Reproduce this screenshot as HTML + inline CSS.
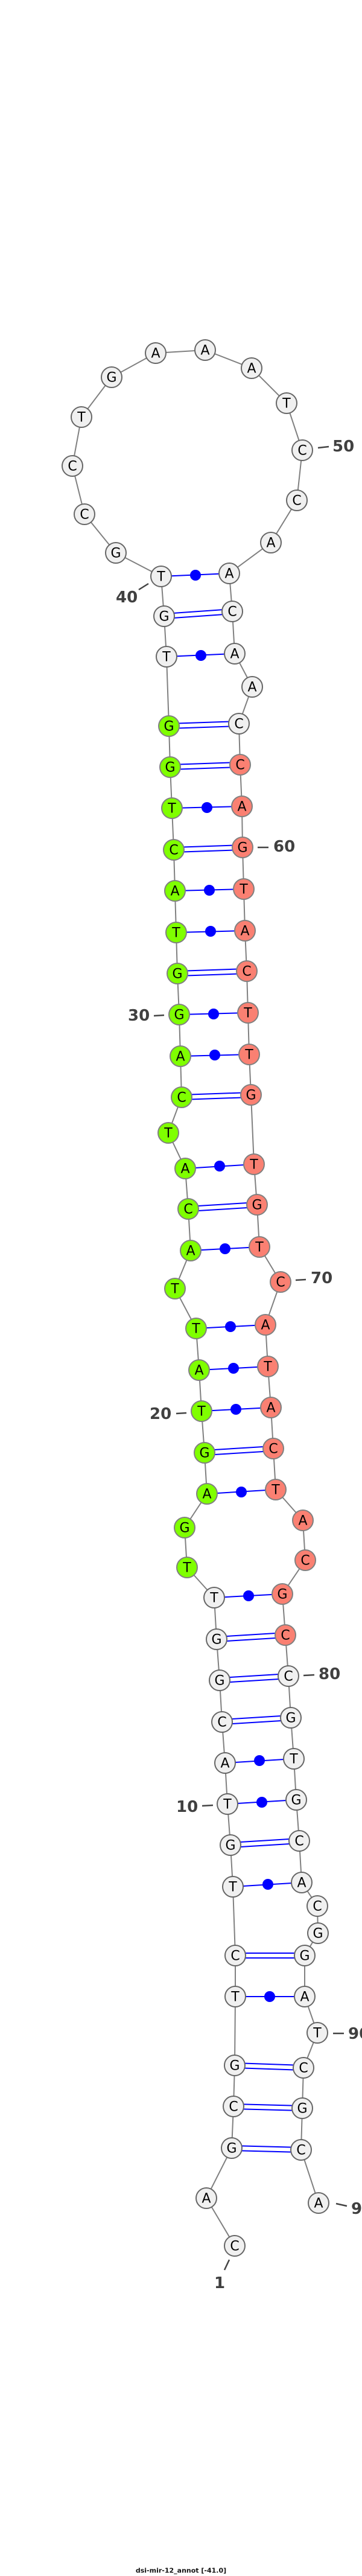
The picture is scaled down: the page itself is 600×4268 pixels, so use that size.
<!DOCTYPE html>
<html><head><meta charset="utf-8"><style>
html,body{margin:0;padding:0;background:#fff}
svg{display:block}
.n text{font-family:"DejaVu Sans","Liberation Sans",sans-serif;font-size:22px;text-anchor:middle;dominant-baseline:central;fill:#000}
.lb{font-family:"DejaVu Sans","Liberation Sans",sans-serif;font-size:26px;font-weight:bold;fill:#404040;dominant-baseline:central}
</style></head><body>
<svg width="600" height="4268" viewBox="0 0 600 4268" xmlns="http://www.w3.org/2000/svg">
<polyline fill="none" stroke="#808080" stroke-width="2" points="389,3721 342,3642 384,3559 387,3490 389,3422 390,3308 390,3240 386,3126 382,3057 377,2989 373,2921 368,2853 364,2784 359,2716 355,2647 310,2597 306,2531 343,2475 339,2407 334,2338 330,2270 325,2201 290,2135 316,2072 312,2003 307,1936 279,1877 301,1818 299,1750 297,1681 294,1613 292,1545 290,1476 288,1408 285,1339 282,1271 280,1203 276,1088 272,1021 267,955 192,916 140,852 120,772 135,691 185,625 258,585 340,580 417,610 475,668 501,746 492,829 449,899 380,950 385,1013 389,1083 418,1138 396,1199 398,1267 401,1336 402,1404 404,1473 406,1542 409,1609 411,1678 413,1747 416,1814 421,1929 426,1996 430,2066 465,2124 440,2195 444,2264 449,2332 453,2400 457,2468 502,2519 506,2585 468,2641 473,2709 478,2777 482,2846 487,2914 491,2982 496,3050 500,3119 526,3158 527,3203 505,3240 505,3308 526,3368 503,3426 501,3493 499,3562 528,3650"/>
<g stroke="#0000ff" stroke-width="2" fill="none">
<!-- dot pairs -->
<line x1="267" y1="955" x2="380" y2="950"/>
<line x1="276" y1="1088" x2="389" y2="1083"/>
<line x1="285" y1="1339" x2="401" y2="1336"/>
<line x1="290" y1="1476" x2="404" y2="1473"/>
<line x1="292" y1="1545" x2="406" y2="1542"/>
<line x1="297" y1="1681" x2="411" y2="1678"/>
<line x1="299" y1="1750" x2="413" y2="1747"/>
<line x1="307" y1="1936" x2="421" y2="1929"/>
<line x1="316" y1="2072" x2="430" y2="2066"/>
<line x1="325" y1="2201" x2="440" y2="2195"/>
<line x1="330" y1="2270" x2="444" y2="2264"/>
<line x1="334" y1="2338" x2="449" y2="2332"/>
<line x1="343" y1="2475" x2="457" y2="2468"/>
<line x1="355" y1="2647" x2="468" y2="2641"/>
<line x1="373" y1="2921" x2="487" y2="2914"/>
<line x1="377" y1="2989" x2="491" y2="2982"/>
<line x1="386" y1="3126" x2="500" y2="3119"/>
<line x1="390" y1="3308" x2="505" y2="3308"/>
<!-- double pairs -->
<line x1="272" y1="1017" x2="385" y2="1009"/><line x1="272" y1="1025" x2="385" y2="1017"/>
<line x1="280" y1="1199" x2="396" y2="1195"/><line x1="280" y1="1207" x2="396" y2="1203"/>
<line x1="282" y1="1267" x2="398" y2="1263"/><line x1="282" y1="1275" x2="398" y2="1271"/>
<line x1="288" y1="1404" x2="402" y2="1400"/><line x1="288" y1="1412" x2="402" y2="1408"/>
<line x1="294" y1="1609" x2="409" y2="1605"/><line x1="294" y1="1617" x2="409" y2="1613"/>
<line x1="301" y1="1814" x2="416" y2="1810"/><line x1="301" y1="1822" x2="416" y2="1818"/>
<line x1="312" y1="1999" x2="426" y2="1992"/><line x1="312" y1="2007" x2="426" y2="2000"/>
<line x1="339" y1="2403" x2="453" y2="2396"/><line x1="339" y1="2411" x2="453" y2="2404"/>
<line x1="359" y1="2712" x2="473" y2="2705"/><line x1="359" y1="2720" x2="473" y2="2713"/>
<line x1="364" y1="2780" x2="478" y2="2773"/><line x1="364" y1="2788" x2="478" y2="2781"/>
<line x1="368" y1="2849" x2="482" y2="2842"/><line x1="368" y1="2857" x2="482" y2="2850"/>
<line x1="382" y1="3053" x2="496" y2="3046"/><line x1="382" y1="3061" x2="496" y2="3054"/>
<line x1="390" y1="3236" x2="505" y2="3236"/><line x1="390" y1="3244" x2="505" y2="3244"/>
<line x1="389" y1="3418" x2="503" y2="3422"/><line x1="389" y1="3426" x2="503" y2="3430"/>
<line x1="387" y1="3486" x2="501" y2="3489"/><line x1="387" y1="3494" x2="501" y2="3497"/>
<line x1="384" y1="3555" x2="499" y2="3558"/><line x1="384" y1="3563" x2="499" y2="3566"/>
</g>
<g fill="#0000ff">
<circle cx="324" cy="953" r="9"/><circle cx="333" cy="1086" r="9"/><circle cx="343" cy="1338" r="9"/>
<circle cx="347" cy="1475" r="9"/><circle cx="349" cy="1543" r="9"/><circle cx="354" cy="1680" r="9"/>
<circle cx="356" cy="1748" r="9"/><circle cx="364" cy="1932" r="9"/><circle cx="373" cy="2069" r="9"/>
<circle cx="382" cy="2198" r="9"/><circle cx="387" cy="2267" r="9"/><circle cx="391" cy="2335" r="9"/>
<circle cx="400" cy="2472" r="9"/><circle cx="412" cy="2644" r="9"/><circle cx="430" cy="2917" r="9"/>
<circle cx="434" cy="2986" r="9"/><circle cx="444" cy="3122" r="9"/><circle cx="447" cy="3308" r="9"/>
</g>
<g stroke="#444" stroke-width="2.5">
<line x1="230" y1="977" x2="246" y2="967"/>
<line x1="527" y1="742" x2="545" y2="740"/>
<line x1="427" y1="1404" x2="445" y2="1404"/>
<line x1="255" y1="1683" x2="272" y2="1682"/>
<line x1="490" y1="2121" x2="507" y2="2120"/>
<line x1="292" y1="2342" x2="309" y2="2341"/>
<line x1="503" y1="2776" x2="521" y2="2775"/>
<line x1="335" y1="2992" x2="353" y2="2991"/>
<line x1="552" y1="3369" x2="570" y2="3369"/>
<line x1="557" y1="3651" x2="575" y2="3655"/>
<line x1="380" y1="3744" x2="372" y2="3761"/>
</g>
<g class="lb">
<text x="192" y="990">40</text>
<text x="551" y="740">50</text>
<text x="453" y="1403">60</text>
<text x="212" y="1683">30</text>
<text x="515" y="2118">70</text>
<text x="248" y="2343">20</text>
<text x="528" y="2774">80</text>
<text x="292" y="2994">10</text>
<text x="577" y="3370">90</text>
<text x="582" y="3660">94</text>
<text x="355" y="3783">1</text>
</g>
<g class="n" stroke-width="2">
<g fill="#f0f0f0" stroke="#666">
<circle cx="389" cy="3721" r="17"/><circle cx="342" cy="3642" r="17"/><circle cx="384" cy="3559" r="17"/><circle cx="387" cy="3490" r="17"/><circle cx="389" cy="3422" r="17"/><circle cx="390" cy="3308" r="17"/><circle cx="390" cy="3240" r="17"/><circle cx="386" cy="3126" r="17"/><circle cx="382" cy="3057" r="17"/><circle cx="377" cy="2989" r="17"/><circle cx="373" cy="2921" r="17"/><circle cx="368" cy="2853" r="17"/><circle cx="364" cy="2784" r="17"/><circle cx="359" cy="2716" r="17"/><circle cx="355" cy="2647" r="17"/>
<circle cx="276" cy="1088" r="17"/><circle cx="272" cy="1021" r="17"/><circle cx="267" cy="955" r="17"/><circle cx="192" cy="916" r="17"/><circle cx="140" cy="852" r="17"/><circle cx="120" cy="772" r="17"/><circle cx="135" cy="691" r="17"/><circle cx="185" cy="625" r="17"/><circle cx="258" cy="585" r="17"/><circle cx="340" cy="580" r="17"/><circle cx="417" cy="610" r="17"/><circle cx="475" cy="668" r="17"/><circle cx="501" cy="746" r="17"/><circle cx="492" cy="829" r="17"/><circle cx="449" cy="899" r="17"/><circle cx="380" cy="950" r="17"/><circle cx="385" cy="1013" r="17"/><circle cx="389" cy="1083" r="17"/><circle cx="418" cy="1138" r="17"/><circle cx="396" cy="1199" r="17"/>
<circle cx="478" cy="2777" r="17"/><circle cx="482" cy="2846" r="17"/><circle cx="487" cy="2914" r="17"/><circle cx="491" cy="2982" r="17"/><circle cx="496" cy="3050" r="17"/><circle cx="500" cy="3119" r="17"/><circle cx="526" cy="3158" r="17"/><circle cx="527" cy="3203" r="17"/><circle cx="505" cy="3240" r="17"/><circle cx="505" cy="3308" r="17"/><circle cx="526" cy="3368" r="17"/><circle cx="503" cy="3426" r="17"/><circle cx="501" cy="3493" r="17"/><circle cx="499" cy="3562" r="17"/><circle cx="528" cy="3650" r="17"/>
</g>
<g fill="#7fff00" stroke="#808080">
<circle cx="310" cy="2597" r="17"/><circle cx="306" cy="2531" r="17"/><circle cx="343" cy="2475" r="17"/><circle cx="339" cy="2407" r="17"/><circle cx="334" cy="2338" r="17"/><circle cx="330" cy="2270" r="17"/><circle cx="325" cy="2201" r="17"/><circle cx="290" cy="2135" r="17"/><circle cx="316" cy="2072" r="17"/><circle cx="312" cy="2003" r="17"/><circle cx="307" cy="1936" r="17"/><circle cx="279" cy="1877" r="17"/><circle cx="301" cy="1818" r="17"/><circle cx="299" cy="1750" r="17"/><circle cx="297" cy="1681" r="17"/><circle cx="294" cy="1613" r="17"/><circle cx="292" cy="1545" r="17"/><circle cx="290" cy="1476" r="17"/><circle cx="288" cy="1408" r="17"/><circle cx="285" cy="1339" r="17"/><circle cx="282" cy="1271" r="17"/><circle cx="280" cy="1203" r="17"/>
</g>
<g fill="#fa8072" stroke="#808080">
<circle cx="398" cy="1267" r="17"/><circle cx="401" cy="1336" r="17"/><circle cx="402" cy="1404" r="17"/><circle cx="404" cy="1473" r="17"/><circle cx="406" cy="1542" r="17"/><circle cx="409" cy="1609" r="17"/><circle cx="411" cy="1678" r="17"/><circle cx="413" cy="1747" r="17"/><circle cx="416" cy="1814" r="17"/><circle cx="421" cy="1929" r="17"/><circle cx="426" cy="1996" r="17"/><circle cx="430" cy="2066" r="17"/><circle cx="465" cy="2124" r="17"/><circle cx="440" cy="2195" r="17"/><circle cx="444" cy="2264" r="17"/><circle cx="449" cy="2332" r="17"/><circle cx="453" cy="2400" r="17"/><circle cx="457" cy="2468" r="17"/><circle cx="502" cy="2519" r="17"/><circle cx="506" cy="2585" r="17"/><circle cx="468" cy="2641" r="17"/><circle cx="473" cy="2709" r="17"/>
</g>
<text x="389" y="3722">C</text><text x="342" y="3643">A</text><text x="384" y="3560">G</text><text x="387" y="3491">C</text><text x="389" y="3423">G</text><text x="390" y="3309">T</text><text x="390" y="3241">C</text><text x="386" y="3127">T</text><text x="382" y="3058">G</text><text x="377" y="2990">T</text><text x="373" y="2922">A</text><text x="368" y="2854">C</text><text x="364" y="2785">G</text><text x="359" y="2717">G</text><text x="355" y="2648">T</text>
<text x="310" y="2598">T</text><text x="306" y="2532">G</text><text x="343" y="2476">A</text><text x="339" y="2408">G</text><text x="334" y="2339">T</text><text x="330" y="2271">A</text><text x="325" y="2202">T</text><text x="290" y="2136">T</text><text x="316" y="2073">A</text><text x="312" y="2004">C</text><text x="307" y="1937">A</text><text x="279" y="1878">T</text><text x="301" y="1819">C</text><text x="299" y="1751">A</text><text x="297" y="1682">G</text><text x="294" y="1614">G</text><text x="292" y="1546">T</text><text x="290" y="1477">A</text><text x="288" y="1409">C</text><text x="285" y="1340">T</text><text x="282" y="1272">G</text><text x="280" y="1204">G</text>
<text x="276" y="1089">T</text><text x="272" y="1022">G</text><text x="267" y="956">T</text><text x="192" y="917">G</text><text x="140" y="853">C</text><text x="120" y="773">C</text><text x="135" y="692">T</text><text x="185" y="626">G</text><text x="258" y="586">A</text><text x="340" y="581">A</text><text x="417" y="611">A</text><text x="475" y="669">T</text><text x="501" y="747">C</text><text x="492" y="830">C</text><text x="449" y="900">A</text><text x="380" y="951">A</text><text x="385" y="1014">C</text><text x="389" y="1084">A</text><text x="418" y="1139">A</text><text x="396" y="1200">C</text>
<text x="398" y="1268">C</text><text x="401" y="1337">A</text><text x="402" y="1405">G</text><text x="404" y="1474">T</text><text x="406" y="1543">A</text><text x="409" y="1610">C</text><text x="411" y="1679">T</text><text x="413" y="1748">T</text><text x="416" y="1815">G</text><text x="421" y="1930">T</text><text x="426" y="1997">G</text><text x="430" y="2067">T</text><text x="465" y="2125">C</text><text x="440" y="2196">A</text><text x="444" y="2265">T</text><text x="449" y="2333">A</text><text x="453" y="2401">C</text><text x="457" y="2469">T</text><text x="502" y="2520">A</text><text x="506" y="2586">C</text><text x="468" y="2642">G</text><text x="473" y="2710">C</text>
<text x="478" y="2778">C</text><text x="482" y="2847">G</text><text x="487" y="2915">T</text><text x="491" y="2983">G</text><text x="496" y="3051">C</text><text x="500" y="3120">A</text><text x="526" y="3159">C</text><text x="527" y="3204">G</text><text x="505" y="3241">G</text><text x="505" y="3309">A</text><text x="526" y="3369">T</text><text x="503" y="3427">C</text><text x="501" y="3494">G</text><text x="499" y="3563">C</text><text x="528" y="3651">A</text>
</g>
<text x="300" y="4259" text-anchor="middle" dominant-baseline="central" style="font-family:'DejaVu Sans','Liberation Sans',sans-serif;font-size:11px;font-weight:bold;fill:#111">dsi-mir-12_annot [-41.0]</text>
</svg>
</body></html>
